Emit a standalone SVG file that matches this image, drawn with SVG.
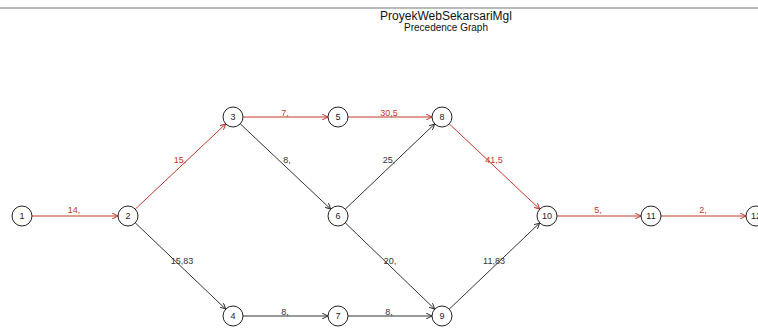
<svg xmlns="http://www.w3.org/2000/svg" width="758" height="331" viewBox="0 0 758 331">
<style>
.n circle{fill:#fff;stroke:#222;stroke-width:1}
.n text{font-family:"Liberation Sans",Arial,sans-serif;font-size:9px;fill:#222;text-anchor:middle}
.e{stroke:#333;stroke-width:1;fill:none;marker-end:url(#ab)}
.c{stroke:#c0392b;stroke-width:1;fill:none;marker-end:url(#ar)}
.l{font-family:"Liberation Sans",Arial,sans-serif;font-size:9px;fill:#333;text-anchor:middle}
.lr{font-family:"Liberation Sans",Arial,sans-serif;font-size:9px;fill:#c0392b;text-anchor:middle}
</style>
<defs>
<marker id="ab" viewBox="0 0 6 6" refX="6" refY="3" markerWidth="6" markerHeight="6" markerUnits="userSpaceOnUse" orient="auto"><path d="M0,0 L6,3 L0,6" fill="none" stroke="#333" stroke-width="1"/></marker>
<marker id="ar" viewBox="0 0 6 6" refX="6" refY="3" markerWidth="6" markerHeight="6" markerUnits="userSpaceOnUse" orient="auto"><path d="M0,0 L6,3 L0,6" fill="none" stroke="#c0392b" stroke-width="1"/></marker>
</defs>
<rect width="758" height="331" fill="#fff"/>
<line x1="0" y1="8" x2="758" y2="8" stroke="#777" stroke-width="1"/>
<text x="446" y="20" font-family="'Liberation Sans',Arial,sans-serif" font-size="12" text-anchor="middle" fill="#111">ProyekWebSekarsariMgl</text>
<text x="446" y="31" font-family="'Liberation Sans',Arial,sans-serif" font-size="10" text-anchor="middle" fill="#111">Precedence Graph</text>
<g id="connectors">
<line class="c" x1="32" y1="216" x2="118" y2="216"/>
<line class="c" x1="135.3" y1="209.1" x2="225.7" y2="123.9"/>
<line class="e" x1="135.3" y1="222.9" x2="225.7" y2="309.1"/>
<line class="c" x1="243" y1="117" x2="328" y2="117"/>
<line class="e" x1="240.3" y1="123.9" x2="330.7" y2="209.1"/>
<line class="c" x1="348" y1="117" x2="432" y2="117"/>
<line class="e" x1="345.3" y1="209.1" x2="434.7" y2="123.9"/>
<line class="e" x1="345.3" y1="222.9" x2="434.7" y2="309.1"/>
<line class="e" x1="243" y1="316" x2="328" y2="316"/>
<line class="e" x1="348" y1="316" x2="432" y2="316"/>
<line class="c" x1="449.3" y1="123.9" x2="539.7" y2="209.1"/>
<line class="e" x1="449.3" y1="309.1" x2="539.7" y2="222.9"/>
<line class="c" x1="557" y1="216" x2="641" y2="216"/>
<line class="c" x1="661" y1="216" x2="746" y2="216"/>
<text class="lr" x="74" y="213">14,</text>
<text class="lr" x="180" y="163">15,</text>
<text class="l" x="182" y="264">15,83</text>
<text class="lr" x="285" y="116">7,</text>
<text class="l" x="287" y="163">8,</text>
<text class="lr" x="389" y="116">30,5</text>
<text class="l" x="389" y="163">25,</text>
<text class="l" x="390" y="264">20,</text>
<text class="l" x="285" y="315">8,</text>
<text class="l" x="389" y="315">8,</text>
<text class="lr" x="494" y="163">41,5</text>
<text class="l" x="494" y="264">11,83</text>
<text class="lr" x="598" y="213">5,</text>
<text class="lr" x="703" y="213">2,</text>
</g>
<g id="n1" class="n"><circle cx="22" cy="216" r="10"/><text x="22" y="219">1</text></g>
<g id="n2" class="n"><circle cx="128" cy="216" r="10"/><text x="128" y="219">2</text></g>
<g id="n3" class="n"><circle cx="233" cy="117" r="10"/><text x="233" y="120">3</text></g>
<g id="n4" class="n"><circle cx="233" cy="316" r="10"/><text x="233" y="319">4</text></g>
<g id="n5" class="n"><circle cx="338" cy="117" r="10"/><text x="338" y="120">5</text></g>
<g id="n6" class="n"><circle cx="338" cy="216" r="10"/><text x="338" y="219">6</text></g>
<g id="n7" class="n"><circle cx="338" cy="316" r="10"/><text x="338" y="319">7</text></g>
<g id="n8" class="n"><circle cx="442" cy="117" r="10"/><text x="442" y="120">8</text></g>
<g id="n9" class="n"><circle cx="442" cy="316" r="10"/><text x="442" y="319">9</text></g>
<g id="n10" class="n"><circle cx="547" cy="216" r="10"/><text x="547" y="219">10</text></g>
<g id="n11" class="n"><circle cx="651" cy="216" r="10"/><text x="651" y="219">11</text></g>
<g id="n12" class="n"><circle cx="756" cy="216" r="10"/><text x="756" y="219">12</text></g>
</svg>
